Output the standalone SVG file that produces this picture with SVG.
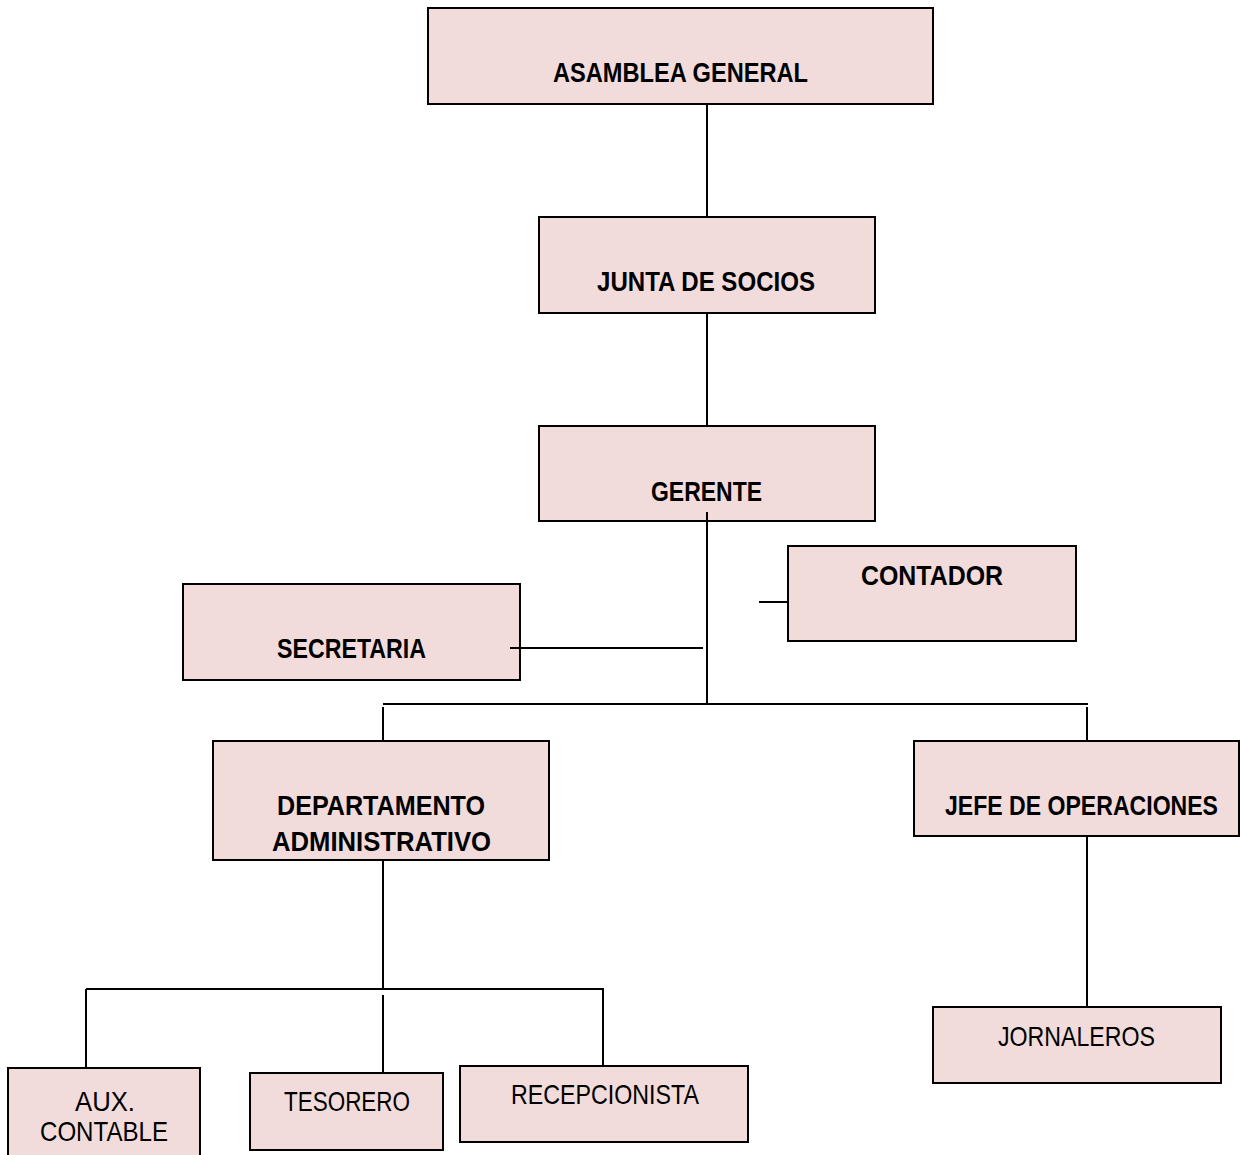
<svg xmlns="http://www.w3.org/2000/svg" width="1240" height="1155" viewBox="0 0 1240 1155">
<style>
.box{fill:#f2dcdb;stroke:#000;stroke-width:2}
.t{font-family:"Liberation Sans",Arial,sans-serif;font-size:28px;text-anchor:middle;fill:#000}
.b{font-weight:bold}
.c{stroke:#000;stroke-width:2;fill:none}
</style>
<rect width="1240" height="1155" fill="#fff"/>
<g id="asamblea"><rect class="box" x="428" y="8" width="505" height="96"/><text class="t b" x="680.5" y="82" textLength="255" lengthAdjust="spacingAndGlyphs">ASAMBLEA GENERAL</text></g>
<g id="junta"><rect class="box" x="539" y="217" width="336" height="96"/><text class="t b" x="706" y="291" textLength="218" lengthAdjust="spacingAndGlyphs">JUNTA DE SOCIOS</text></g>
<g id="gerente"><rect class="box" x="539" y="426" width="336" height="95"/><text class="t b" x="706.5" y="501" textLength="111" lengthAdjust="spacingAndGlyphs">GERENTE</text></g>
<g id="contador"><rect class="box" x="788" y="546" width="288" height="95"/><text class="t b" x="932" y="585" textLength="142" lengthAdjust="spacingAndGlyphs">CONTADOR</text></g>
<g id="secretaria"><rect class="box" x="183" y="584" width="337" height="96"/><text class="t b" x="351.5" y="658" textLength="149" lengthAdjust="spacingAndGlyphs">SECRETARIA</text></g>
<g id="departamento"><rect class="box" x="213" y="741" width="336" height="119"/><text class="t b" x="381" y="815" textLength="208" lengthAdjust="spacingAndGlyphs">DEPARTAMENTO</text><text class="t b" x="381.5" y="851" textLength="219" lengthAdjust="spacingAndGlyphs">ADMINISTRATIVO</text></g>
<g id="jefe"><rect class="box" x="914" y="741" width="325" height="95"/><text class="t b" x="1081.5" y="815" textLength="273" lengthAdjust="spacingAndGlyphs">JEFE DE OPERACIONES</text></g>
<g id="jornaleros"><rect class="box" x="933" y="1007" width="288" height="76"/><text class="t" x="1076.5" y="1046" textLength="157" lengthAdjust="spacingAndGlyphs">JORNALEROS</text></g>
<g id="aux"><rect class="box" x="8" y="1068" width="192" height="95"/><text class="t" x="105" y="1111" textLength="60" lengthAdjust="spacingAndGlyphs">AUX.</text><text class="t" x="104" y="1141" textLength="128" lengthAdjust="spacingAndGlyphs">CONTABLE</text></g>
<g id="tesorero"><rect class="box" x="250" y="1073" width="193" height="77"/><text class="t" x="347" y="1111" textLength="126" lengthAdjust="spacingAndGlyphs">TESORERO</text></g>
<g id="recepcionista"><rect class="box" x="460" y="1066" width="288" height="76"/><text class="t" x="605" y="1104" textLength="188" lengthAdjust="spacingAndGlyphs">RECEPCIONISTA</text></g>
<g id="connectors">
<line class="c" x1="707" y1="104" x2="707" y2="217"/>
<line class="c" x1="707" y1="313" x2="707" y2="426"/>
<line class="c" x1="707" y1="512" x2="707" y2="704"/>
<line class="c" x1="759" y1="602" x2="788" y2="602"/>
<line class="c" x1="510" y1="648" x2="703" y2="648"/>
<line class="c" x1="383" y1="704" x2="1088" y2="704"/>
<line class="c" x1="383" y1="707" x2="383" y2="741"/>
<line class="c" x1="1087" y1="707" x2="1087" y2="741"/>
<line class="c" x1="1087" y1="836" x2="1087" y2="1007"/>
<line class="c" x1="383" y1="860" x2="383" y2="989"/>
<line class="c" x1="86" y1="989" x2="604" y2="989"/>
<line class="c" x1="86" y1="989" x2="86" y2="1068"/>
<line class="c" x1="383" y1="995" x2="383" y2="1073"/>
<line class="c" x1="603" y1="989" x2="603" y2="1066"/>
</g>
</svg>
